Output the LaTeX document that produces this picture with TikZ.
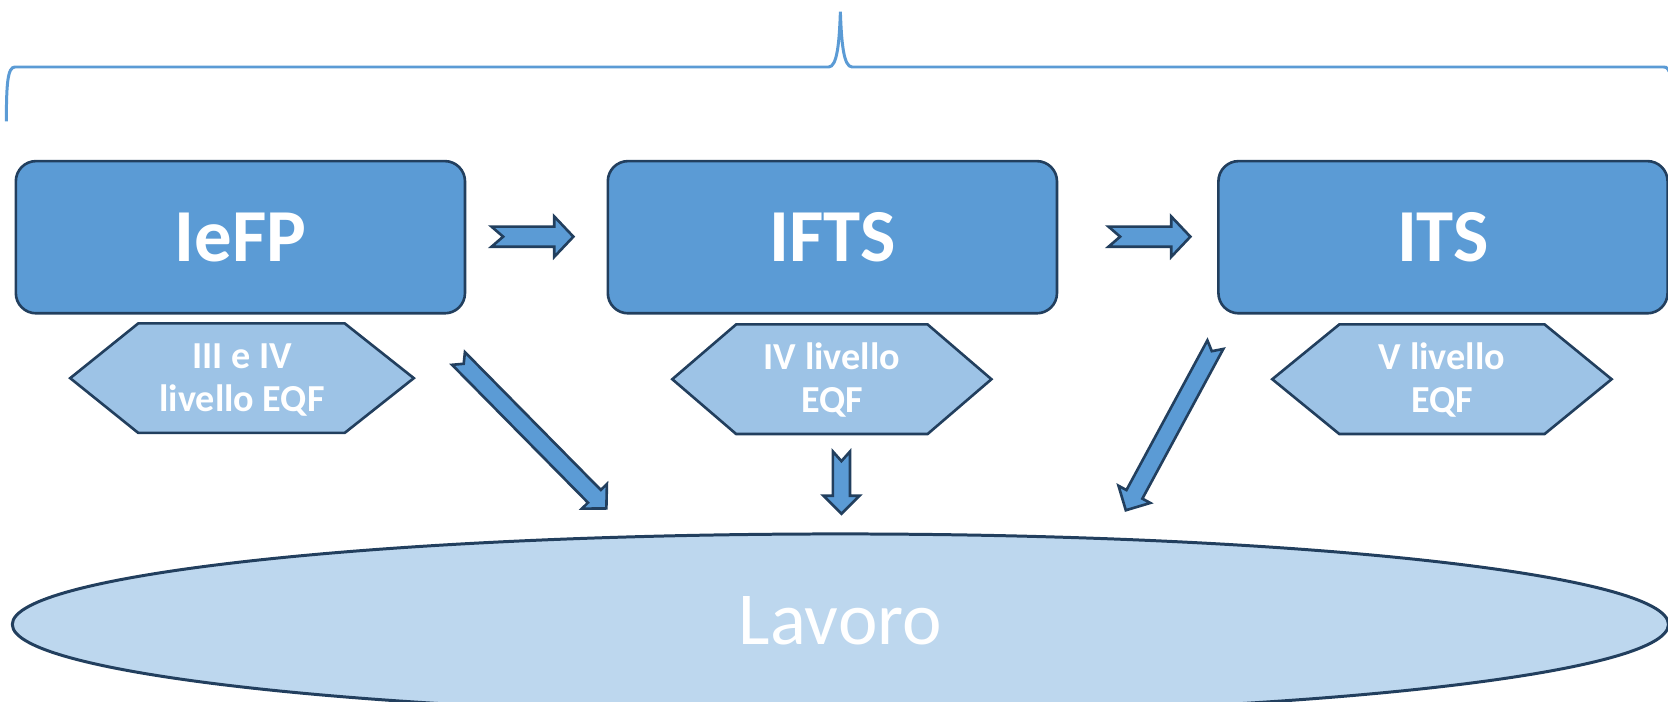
\documentclass[tikz,border=0pt]{standalone}
\usepackage{fontspec}
\setmainfont{Carlito}
\usetikzlibrary{shapes.geometric}
\definecolor{stageblue}{HTML}{5B9BD5}
\definecolor{taglight}{HTML}{9DC3E6}
\definecolor{jobpale}{HTML}{BDD7EE}
\definecolor{edgenavy}{HTML}{223F5E}
\tikzset{
  stagebox/.style={draw=edgenavy, fill=stageblue, line width=0.7pt, rounded corners=0.19cm, minimum width=4.22cm, minimum height=1.43cm, text=white, font=\fontsize{20}{24}\selectfont\bfseries},
  eqftag/.style={align=center, text=white, font=\fontsize{10.2}{11.4}\selectfont\bfseries},
  tagfill/.style={draw=edgenavy, fill=taglight, line width=0.7pt},
  arrowfill/.style={draw=edgenavy, fill=stageblue, line width=0.7pt, line join=miter},
  jobellipse/.style={ellipse, draw=edgenavy, fill=jobpale, line width=0.8pt, minimum width=15.56cm, minimum height=1.7cm, inner sep=0pt, text=white, font=\fontsize{20}{24}\selectfont},
  pics/blockarrow/.style n args={5}{code={
    \draw[arrowfill] (0,-#2) -- ({#1-#4},-#2) -- ({#1-#4},-#3) -- (#1,0) -- ({#1-#4},#3) -- ({#1-#4},#2) -- (0,#2) -- (#5,0) -- cycle;
  }}
}
\begin{document}
\begin{tikzpicture}[x=0.01cm, y=-0.01cm]
\useasboundingbox (0,0) rectangle (1568,659);
\draw[stageblue, line width=0.8pt] (6,114) .. controls (6,80) and (7,63) .. (14,63) -- (779,63) .. controls (787,63) and (789,40) .. (790,11) .. controls (791,40) and (793,63) .. (801,63) -- (1564,63) .. controls (1570,63) and (1572,70) .. (1574,114);
\node[stagebox] (iefp) at (226,223) {IeFP};
\node[stagebox] (ifts) at (782.5,223) {IFTS};
\node[stagebox] (its) at (1356.5,223) {ITS};
\draw[tagfill] (66,355.5) -- (130,304) -- (324,304) -- (389,355.5) -- (324,407) -- (130,407) -- cycle;
\draw[tagfill] (632,356.5) -- (692,305) -- (872,305) -- (932,356.5) -- (872,408) -- (692,408) -- cycle;
\draw[tagfill] (1196,356.5) -- (1259,305) -- (1452,305) -- (1515,356.5) -- (1452,408) -- (1259,408) -- cycle;
\node[eqftag] (eqfa) at (227.5,357) {III e IV\\livello EQF};
\node[eqftag] (eqfb) at (782,357) {IV livello\\EQF};
\node[eqftag] (eqfc) at (1355.5,357) {V livello\\EQF};
\node[jobellipse] (lavoro) at (790,587) {};
\node[text=white, font=\fontsize{20}{24}\selectfont] (lavorotext) at (790,584) {Lavoro};
\coordinate (r1tail) at (462,222.5);
\coordinate (r2tail) at (1042,222.5);
\coordinate (d1tail) at (431,337);
\coordinate (d2tail) at (791,424.5);
\coordinate (d3tail) at (1142.5,324);
\pic at (r1tail) {blockarrow={77}{9.5}{19}{18}{11}};
\pic at (r2tail) {blockarrow={77}{9.5}{19}{18}{11}};
\pic[rotate=-45.4] at (d1tail) {blockarrow={198}{8.5}{16.5}{16}{7}};
\pic[rotate=-90] at (d2tail) {blockarrow={58.5}{8}{17}{17}{9}};
\pic[rotate=-118.4] at (d3tail) {blockarrow={177}{8.5}{17}{17}{7}};
\end{tikzpicture}
\end{document}
